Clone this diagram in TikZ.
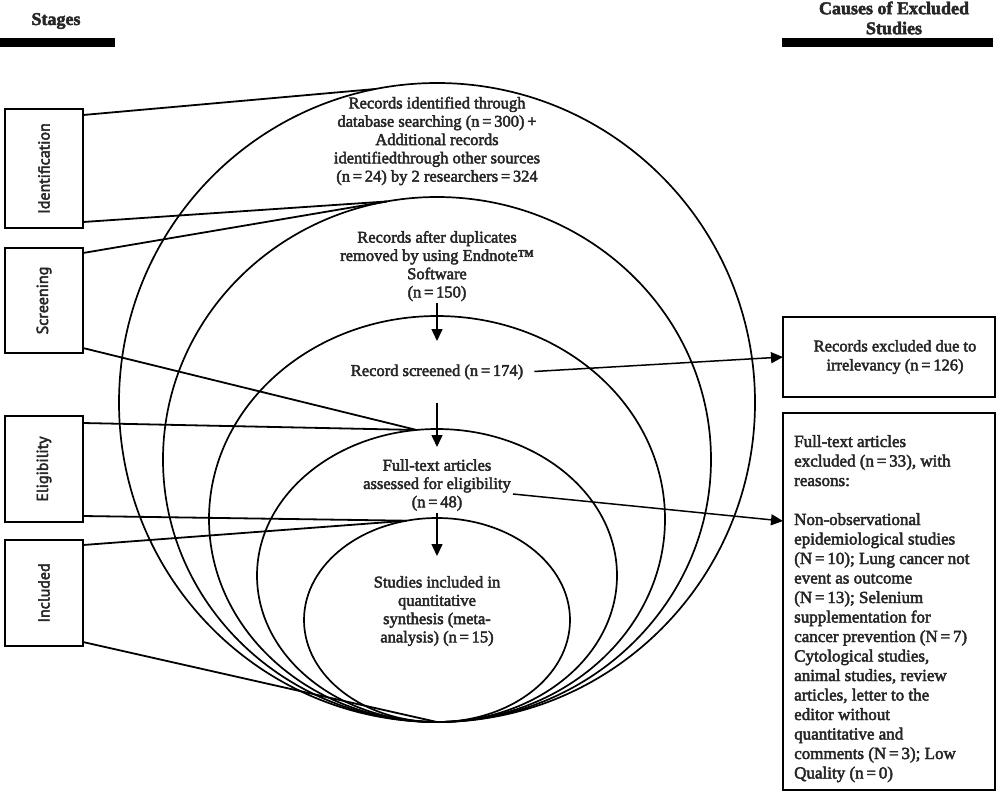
\documentclass[tikz,border=0pt]{standalone}
\usepackage{fontspec}
\setmainfont{Liberation Serif}
\newfontfamily\stagefont{PT Sans}
\newcommand\heavytext{\special{pdf:literal direct 2 Tr 0.45 w}}
\usetikzlibrary{arrows.meta,calc,shapes.geometric}
\begin{document}
\begin{tikzpicture}[x=1pt,y=-1pt,
  ell/.style={draw,ellipse,line width=1.7pt,inner sep=0pt,outer sep=0pt},
  txt/.style={align=center,font=\heavytext\fontsize{16.5}{18.3}\selectfont,inner sep=2pt,text=black!85},
  stagebox/.style={draw,line width=2.3pt,inner sep=0pt,outer sep=0pt,minimum width=78pt,font=\heavytext\stagefont\fontsize{16}{18}\selectfont,text=black!85},
  rbox/.style={draw,line width=2.3pt,inner sep=0pt,outer sep=0pt,minimum width=212pt},
  conn/.style={line width=1.8pt},
  arr/.style={line width=1.5pt,-{Triangle[width=11pt,length=12pt]}},
  head/.style={font=\heavytext\bfseries\fontsize{18}{20}\selectfont,align=center,text=black!85},
  bar/.style={fill=black,inner sep=0pt,outer sep=0pt,minimum height=9pt}
]
\useasboundingbox (0,0) rectangle (1000,793);

% headers
\node[head] (h1) at (56,21) {Stages};
\node[bar,minimum width=115pt] (bar1) at (57.5,42.5) {};
\node[head] (h2) at (894,18) {Causes of Excluded\\Studies};
\node[bar,minimum width=211pt] (bar2) at (887.5,42.5) {};

% nested ellipses
\node[ell,minimum width=636pt,minimum height=639pt] (e1) at (437,402.5) {};
\node[ell,minimum width=548pt,minimum height=525pt] (e2) at (437,459.5) {};
\node[ell,minimum width=456pt,minimum height=406pt] (e3) at (437,519) {};
\node[ell,minimum width=360pt,minimum height=293pt] (e4) at (437,575.5) {};
\node[ell,minimum width=266pt,minimum height=204pt] (e5) at (437,620) {};

% texts in ellipses
\node[txt] (t1) at (437,141) {Records identified through\\database searching (n\,=\,300)\,+\\Additional records\\identifiedthrough other sources\\(n\,=\,24) by 2 researchers\,=\,324};
\node[txt] (t2) at (437,266) {Records after duplicates\\removed by using Endnote™\\Software\\(n\,=\,150)};
\node[txt] (t3) at (437,372) {Record screened (n\,=\,174)};
\node[txt] (t4) at (437,485) {Full-text articles\\assessed for eligibility\\(n\,=\,48)};
\node[txt] (t5) at (437,611) {Studies included in\\quantitative\\synthesis (meta-\\analysis) (n\,=\,15)};

% stage boxes
\node[stagebox,minimum height=119pt] (s1) at (44,168.5) {\rotatebox{90}{Identification}};
\node[stagebox,minimum height=105pt] (s2) at (44,300.5) {\rotatebox{90}{Screening}};
\node[stagebox,minimum height=106pt] (s3) at (44,469) {\rotatebox{90}{Eligibility}};
\node[stagebox,minimum height=106pt] (s4) at (44,593) {\rotatebox{90}{Included}};

% stage connectors
\draw[conn] ($(s1.north east)+(0,6)$) -- (e1.101);
\draw[conn] ($(s1.south east)+(0,-6)$) -- (e2.101);
\draw[conn] ($(s2.north east)+(0,5)$) -- (e2.101);
\draw[conn] ($(s2.south east)+(0,-5)$) -- (e4.98);
\draw[conn] ($(s3.north east)+(0,7)$) -- (e4.98);
\draw[conn] ($(s3.south east)+(0,-6)$) -- (e5.107);
\draw[conn] ($(s4.north east)+(0,5)$) -- (e5.107);
\draw[conn] ($(s4.south east)+(0,-4)$) -- (e5.south);

% right boxes
\node[rbox,minimum height=80pt,align=center,font=\heavytext\fontsize{16.5}{19}\selectfont,text=black!85] (b1) at (889,357) {\hspace*{12pt}Records excluded due to\\\hspace*{12pt}irrelevancy (n\,=\,126)};
\node[rbox,minimum height=377pt] (b2) at (889,601.5) {};
\node[anchor=north west,align=left,inner sep=0pt,font=\heavytext\fontsize{17}{19.5}\selectfont,text=black!85] (b2t) at (794,435) {Full-text articles\\excluded (n\,=\,33), with\\reasons:\\[19.5pt]Non-observational\\epidemiological studies\\(N\,=\,10); Lung cancer not\\event as outcome\\(N\,=\,13); Selenium\\supplementation for\\cancer prevention (N\,=\,7)\\Cytological studies,\\animal studies, review\\articles, letter to the\\editor without\\quantitative and\\comments (N\,=\,3); Low\\Quality (n\,=\,0)};

% arrows
\coordinate (a1t) at (437,341);
\draw[arr] (t2.south) -- (a1t);
\coordinate (a2t) at (437,447);
\draw[arr,shorten <=21pt] (t3.south) -- (a2t);
\coordinate (a3t) at (437,556);
\draw[arr] (t4.south) -- (a3t);
\draw[arr,shorten <=9pt] (t3.east) -- (b1.west);
\coordinate (r2t) at (783,521);
\draw[arr] ($(t4.east)+(0,9)$) -- (r2t);
\end{tikzpicture}
\end{document}
